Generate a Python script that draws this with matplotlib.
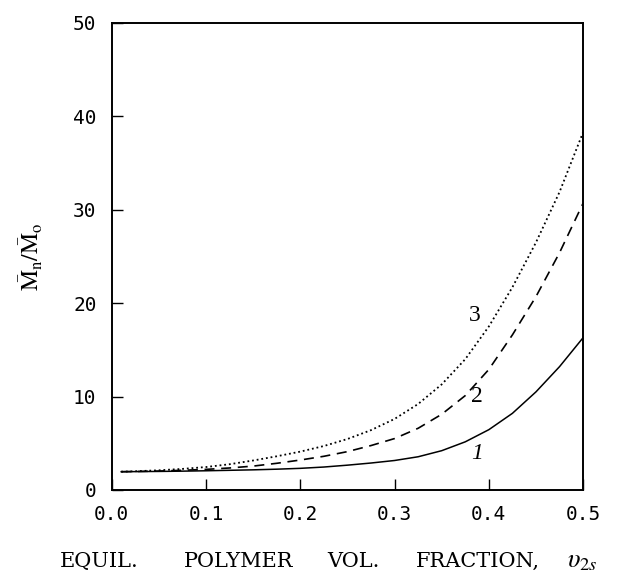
import matplotlib
matplotlib.use('Agg')
import matplotlib.pyplot as plt

# valores
phi = [0.01, 0.025, 0.05, 0.075, 0.10, 0.125, 0.15, 0.175, 0.20, 0.225, 0.25,
       0.275, 0.30, 0.325, 0.35, 0.375, 0.40, 0.425, 0.45, 0.475, 0.50]
curva1 = [1.95, 1.96, 1.98, 2.01, 2.05, 2.10, 2.15, 2.22, 2.31, 2.45, 2.65,
          2.88, 3.15, 3.55, 4.2, 5.15, 6.45, 8.2, 10.5, 13.2, 16.3]
curva2 = [1.95, 1.97, 2.02, 2.1, 2.2, 2.35, 2.55, 2.85, 3.2, 3.6, 4.1,
          4.75, 5.5, 6.6, 8.1, 10.1, 12.9, 16.6, 20.7, 25.4, 30.7]
curva3 = [1.95, 2.0, 2.1, 2.25, 2.45, 2.75, 3.15, 3.6, 4.1, 4.7, 5.45,
          6.4, 7.6, 9.2, 11.3, 14.0, 17.5, 21.7, 26.5, 31.9, 38.3]
etiquetas = ['1', '2', '3']
pos_etiquetas = [(0.387, 3.9), (0.387, 9.95), (0.385, 18.7)]

xticks = [0.0, 0.1, 0.2, 0.3, 0.4, 0.5]
yticks = [0, 10, 20, 30, 40, 50]

# palabras del título del eje x y su centro en píxeles
palabras_x = ['EQUIL.', 'POLYMER', 'VOL.', 'FRACTION,', r'$\upsilon_{2s}$']
centros_x = [99, 239, 353, 478, 582]

plt.rcParams['mathtext.fontset'] = 'stix'

fig = plt.figure(figsize=(6.21, 5.73), dpi=100)
ax = fig.add_axes([0.180, 0.145, 0.759, 0.815])

ax.plot(phi, curva1, color='black', lw=1.1, ls='-')
ax.plot(phi, curva2, color='black', lw=1.2, ls=(0, (6, 4)))
ax.plot(phi, curva3, color='black', lw=1.3, ls=(0, (1, 1.6)))

for texto, (x, y) in zip(etiquetas, pos_etiquetas):
    ax.text(x, y, texto, fontsize=17, family='Liberation Serif',
            ha='center', va='center', style='italic' if texto == '1' else 'normal')

ax.set_xlim(0, 0.5)
ax.set_ylim(0, 50)
ax.set_xticks(xticks)
ax.set_yticks(yticks)
ax.set_xticklabels([f'{v:.1f}' for v in xticks])
ax.set_yticklabels([str(v) for v in yticks])
ax.tick_params(direction='in', length=8, width=1.0, top=False, right=False,
               labelsize=14, pad=11)
for lab in ax.get_xticklabels() + ax.get_yticklabels():
    lab.set_family('DejaVu Sans Mono')
for sp in ax.spines.values():
    sp.set_linewidth(1.4)

# título del eje x, palabra por palabra sobre la misma línea base
for palabra, cx in zip(palabras_x, centros_x):
    fig.text(cx / 621, 1 - 567 / 573, palabra,
             fontsize=19 if palabra.startswith('$') else 15,
             family='DejaVu Serif', ha='center', va='baseline')
fig.text(31 / 621, 1 - 257 / 573,
         r'$\bar{\mathrm{M}}_{\mathrm{n}}/\bar{\mathrm{M}}_{\mathrm{o}}$',
         fontsize=17, rotation=90, ha='center', va='center')

fig.savefig('out.png', dpi=100)
